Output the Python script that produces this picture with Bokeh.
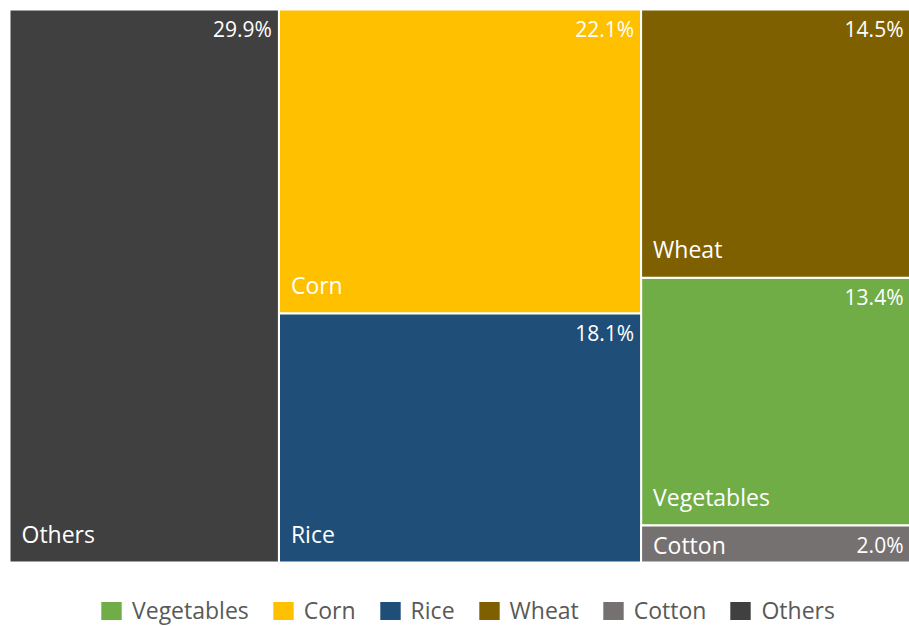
from bokeh.plotting import figure
from bokeh.models import Range1d, Legend, LegendItem, ColumnDataSource
from bokeh.core.properties import value
from bokeh.embed import file_html
from bokeh.resources import INLINE

categories = ["Others", "Corn", "Rice", "Wheat", "Vegetables", "Cotton"]
values = [29.9, 22.1, 18.1, 14.5, 13.4, 2.0]
colors = ["#404040", "#FFC000", "#1F4E79", "#7F6000", "#70AD47", "#767171"]
column_of = [0, 1, 1, 2, 2, 2]
legend_order = ["Vegetables", "Corn", "Rice", "Wheat", "Cotton", "Others"]

FONT = "Open Sans"
W, H = 909, 626
TM_L, TM_T = 9, 9          # treemap edge position (px) inside the figure
TM_W, TM_H = 901, 553      # treemap pixel size

total = sum(values)
ncol = max(column_of) + 1
col_tot = [sum(v for v, c in zip(values, column_of) if c == k) for k in range(ncol)]
col_left = []
acc = 0.0
for k in range(ncol):
    col_left.append(acc)
    acc += col_tot[k] / total
y_cursor = [1.0] * ncol

rects = {}
for name, v, c, col in zip(categories, values, column_of, colors):
    l = col_left[c]
    r = l + col_tot[c] / total
    t = y_cursor[c]
    b = t - v / col_tot[c]
    y_cursor[c] = b
    rects[name] = dict(left=l, right=r, top=t, bottom=b, color=col, val=v)

p = figure(width=W, height=H, output_backend="svg", toolbar_location=None,
           x_axis_location=None, y_axis_location=None, min_border=0,
           x_range=Range1d(-TM_L / TM_W, (W - TM_L) / TM_W),
           y_range=Range1d(-(H - TM_T - TM_H) / TM_H, 1.0 + TM_T / TM_H))
p.grid.visible = False
p.outline_line_color = None

items = []
for name in legend_order:
    d = rects[name]
    src = ColumnDataSource(dict(left=[d["left"]], right=[d["right"]],
                                top=[d["top"]], bottom=[d["bottom"]]))
    r = p.quad(left="left", right="right", top="top", bottom="bottom", source=src,
               fill_color=d["color"], line_color="white", line_width=2)
    items.append(LegendItem(label=name, renderers=[r]))

# labels
names, nx, ny, nyoff, px, py, pyoff, ptxt = [], [], [], [], [], [], [], []
for name in categories:
    d = rects[name]
    hpx = (d["top"] - d["bottom"]) * TM_H
    small = hpx < 50
    names.append(name)
    nx.append(d["left"]); ny.append(d["bottom"]); nyoff.append(-18 if small else -29)
    px.append(d["right"])
    ptxt.append(f"{d['val']:.1f}%")
    if small:
        py.append(d["bottom"]); pyoff.append(-18)
    else:
        py.append(d["top"]); pyoff.append(19)

lab = ColumnDataSource(dict(x=nx, y=ny, t=names, yo=nyoff))
p.text(x="x", y="y", text="t", y_offset="yo", x_offset=12, source=lab,
       text_font=value(FONT), text_font_size="23px", text_color="white",
       text_align="left", text_baseline="alphabetic")
pl = ColumnDataSource(dict(x=px, y=py, t=ptxt, yo=pyoff))
p.text(x="x", y="y", text="t", y_offset="yo", x_offset=-7, source=pl,
       text_font=value(FONT), text_font_size="21px", text_color="white",
       text_align="right", text_baseline="alphabetic")

legend = Legend(items=items, orientation="horizontal", location=(97, 0),
                glyph_width=28, glyph_height=25, label_standoff=7, spacing=20,
                label_text_font=FONT, label_text_font_size="23px",
                label_text_color="#595959", border_line_color=None,
                background_fill_alpha=0, padding=0, margin=0)
p.add_layout(legend)

open("out.html", "w").write(file_html(p, INLINE))
